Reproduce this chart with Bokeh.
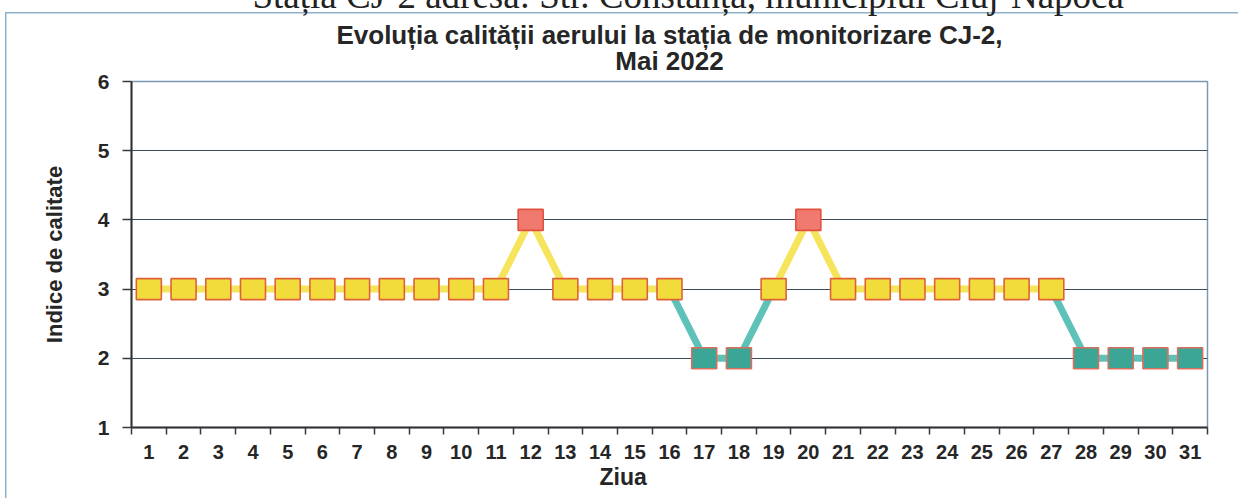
from bokeh.plotting import figure
from bokeh.models import FixedTicker, Range1d, Title, ColumnDataSource
from bokeh.embed import file_html
from bokeh.resources import INLINE

# ---- data ----
days = [1, 2, 3, 4, 5, 6, 7, 8, 9, 10, 11, 12, 13, 14, 15, 16,
        17, 18, 19, 20, 21, 22, 23, 24, 25, 26, 27, 28, 29, 30, 31]
index_values = [3, 3, 3, 3, 3, 3, 3, 3, 3, 3, 3, 4, 3, 3, 3, 3,
                2, 2, 3, 4, 3, 3, 3, 3, 3, 3, 3, 2, 2, 2, 2]
y_ticks = [1, 2, 3, 4, 5, 6]
grid_levels = [2, 3, 4, 5]
title_line1 = "Evoluția calității aerului la stația de monitorizare CJ-2,"
title_line2 = "Mai 2022"
header_text = "Stația CJ-2 adresa: Str. Constanța, municipiul Cluj-Napoca"
x_label = "Ziua"
y_label = "Indice de calitate"

marker_fill = {2: "#3ba696", 3: "#f2dc3c", 4: "#f17a70"}
marker_edge = {2: "#d9705e", 3: "#de6238", 4: "#e2503f"}
line_col = {2: "#5fc2b9", 3: "#f6e45c"}

FONT = "Liberation Sans"
BOX = "#8fb2cc"

TOP, FRAME_H = 123, 346
MX, MY = -24, 81 - TOP      # page offset of the canvas
W, H = 1262, 498 - MY
p = figure(width=W, height=H, output_backend="svg", toolbar_location=None,
           x_range=Range1d(0.5, 31.5), y_range=Range1d(1, 6),
           min_border_left=155, min_border_right=31, min_border_top=TOP,
           min_border_bottom=H - TOP - FRAME_H, background_fill_color="white",
           border_fill_alpha=0,
           styles={"margin-left": f"{MX}px", "margin-top": f"{MY}px",
                   "background-color": "white",
                   "background-image": f"linear-gradient({BOX}, {BOX}), linear-gradient({BOX}, {BOX})",
                   "background-size": "100% 1.5px, 1.5px 100%",
                   "background-position": f"{5 - MX}px {12 - MY}px, {5 - MX}px {12 - MY}px",
                   "background-repeat": "no-repeat"})
p.title = None
p.outline_line_color = "#7d98b3"
p.outline_line_width = 1.5

# segments colored by the lower end level
seg_colors = [line_col[min(a, b)] for a, b in zip(index_values[:-1], index_values[1:])]
seg_src = ColumnDataSource(dict(x0=days[:-1], y0=index_values[:-1],
                                x1=days[1:], y1=index_values[1:], c=seg_colors))
p.segment(x0="x0", y0="y0", x1="x1", y1="y1", line_color="c", line_width=7,
          source=seg_src)

pt_src = ColumnDataSource(dict(x=days, y=index_values,
                               f=[marker_fill[v] for v in index_values],
                               e=[marker_edge[v] for v in index_values]))
p.rect(x="x", y="y", width=25, height=21, width_units="screen", height_units="screen",
       fill_color="f", line_color="e", line_width=1.6, source=pt_src)

# grid
p.xgrid.grid_line_color = None
p.ygrid.ticker = FixedTicker(ticks=grid_levels)
p.ygrid.grid_line_color = "#3d4b5c"
p.ygrid.grid_line_width = 1.2

# x axis
xa = p.xaxis[0]
xa.ticker = FixedTicker(ticks=days, minor_ticks=[d - 0.5 for d in days] + [31.5])
xa.major_tick_line_color = None
xa.minor_tick_line_color = "#3a3a3a"
xa.minor_tick_line_width = 1.5
xa.minor_tick_out = 7
xa.minor_tick_in = 0
xa.axis_line_color = "#333333"
xa.axis_line_width = 2
xa.major_label_text_font = FONT
xa.major_label_text_font_style = "bold"
xa.major_label_text_font_size = "20px"
xa.major_label_text_color = "#262626"
xa.major_label_standoff = 10

# y axis
ya = p.yaxis[0]
ya.ticker = FixedTicker(ticks=y_ticks)
ya.major_tick_line_color = "#3a3a3a"
ya.major_tick_line_width = 1.5
ya.major_tick_out = 9
ya.major_tick_in = 0
ya.minor_tick_line_color = None
ya.axis_line_color = "#333333"
ya.axis_line_width = 2
ya.major_label_text_font = FONT
ya.major_label_text_font_style = "bold"
ya.major_label_text_font_size = "21px"
ya.major_label_text_color = "#262626"
ya.major_label_standoff = 13
ya.axis_label = y_label
ya.axis_label_text_font = FONT
ya.axis_label_text_font_style = "bold"
ya.axis_label_text_font_size = "22px"
ya.axis_label_text_color = "#262626"
ya.axis_label_standoff = 28

# chart title (two centred lines) and the scanned header above it
p.add_layout(Title(text=title_line2, align="center", text_font=FONT,
                   text_font_style="bold", text_font_size="26px",
                   text_color="#262626", standoff=11), "above")
p.add_layout(Title(text=title_line1, align="center", text_font=FONT,
                   text_font_style="bold", text_font_size="26px",
                   text_color="#262626", standoff=-22), "above")
p.add_layout(Title(text=header_text, align="left", offset=121,
                   text_font="Liberation Serif", text_font_style="normal",
                   text_font_size="37px", text_color="#222222", standoff=26), "above")

# x axis label (left of centre as in the original)
p.add_layout(Title(text=x_label, align="left", offset=468, vertical_align="top",
                   text_font=FONT, text_font_style="bold", text_font_size="23px",
                   text_color="#262626", standoff=5), "below")

open("out.html", "w").write(file_html(p, INLINE))
